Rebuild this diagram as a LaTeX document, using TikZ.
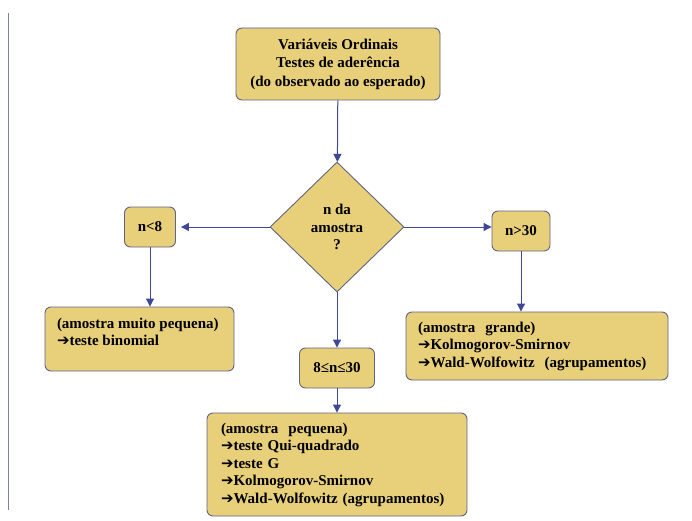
\documentclass[tikz,border=0pt]{standalone}
\usepackage{fontspec}
\setmainfont{Liberation Serif}
\newfontfamily\boxfont{Liberation Serif Bold}
\newfontfamily\symfont{DejaVu Sans Bold}
\usetikzlibrary{shapes.geometric,arrows.meta}
\definecolor{boxfill}{RGB}{232,207,122}
\definecolor{boxline}{RGB}{96,99,130}
\definecolor{flowblue}{RGB}{62,72,150}
\newcommand{\seta}{{\symfont\fontsize{15}{15}\selectfont ➔}}

\begin{document}
\begin{tikzpicture}[x=1pt,y=-1pt,font=\boxfont\fontsize{15}{17.5}\selectfont]
        % Styles
        \tikzstyle{box}=[draw=boxline,fill=boxfill,line width=0.9pt,rounded corners=6pt,inner sep=0pt]
        \tikzstyle{decision}=[diamond,draw=boxline,fill=boxfill,line width=0.9pt,inner sep=0pt,minimum width=134pt,minimum height=130pt,align=center]
        \tikzstyle{flow arrow}=[draw=flowblue,line width=1pt,-{Triangle[length=8pt,width=8pt]}]
        \useasboundingbox (0,0) rectangle (692,521);
        %page rule
        \draw[boxline!80,line width=0.8pt] (8,13) -- (8,510);
        %nodes
        \node[box,minimum width=204pt,minimum height=72pt,align=center,font=\boxfont\fontsize{15}{18.5}\selectfont]
            (title) at (338,64) {Variáveis Ordinais\\Testes de aderência\\(do observado ao esperado)};
        \node[decision] (question) at (337,227) {n da\\amostra\\?};
        \node[box,minimum width=51pt,minimum height=40pt] (lessEight) at (150,227) {n<8};
        \node[box,minimum width=58pt,minimum height=40pt] (moreThirty) at (521,231) {n>30};
        \node[box,minimum width=75pt,minimum height=40pt] (midRange) at (337,368) {8≤n≤30};
        \node[box,inner xsep=12pt] (tinySample) at (139.5,339)
            {\parbox[c][64pt][t]{165pt}{\rule{0pt}{21pt}(amostra muito pequena)\\\seta teste binomial}};
        \node[box,inner xsep=12pt,minimum height=68pt,text width=238pt,align=left] (largeSample) at (537,346)
            {(amostra\ \ grande)\\\seta Kolmogorov-Smirnov\\\seta Wald-Wolfowitz\ \ (agrupamentos)};
        \node[box,inner xsep=14pt,minimum height=103pt,text width=232pt,align=left] (smallSample) at (337,464.5)
            {(amostra\ \ pequena)\\\seta teste Qui-quadrado\\\seta teste G\\\seta Kolmogorov-Smirnov\\\seta Wald-Wolfowitz (agrupamentos)};
        %connectors
        \draw[flow arrow] (title) -- (question);
        \draw[flow arrow,shorten >=5pt] (question.west) -- (lessEight.east);
        \draw[flow arrow] (question.east) -- (question.east -| moreThirty.west);
        \draw[flow arrow] (question) -- (midRange);
        \draw[flow arrow] (lessEight) -- (lessEight |- tinySample.north);
        \draw[flow arrow] (moreThirty) -- (moreThirty |- largeSample.north);
        \draw[flow arrow] (midRange) -- (smallSample);
\end{tikzpicture}
\end{document}
